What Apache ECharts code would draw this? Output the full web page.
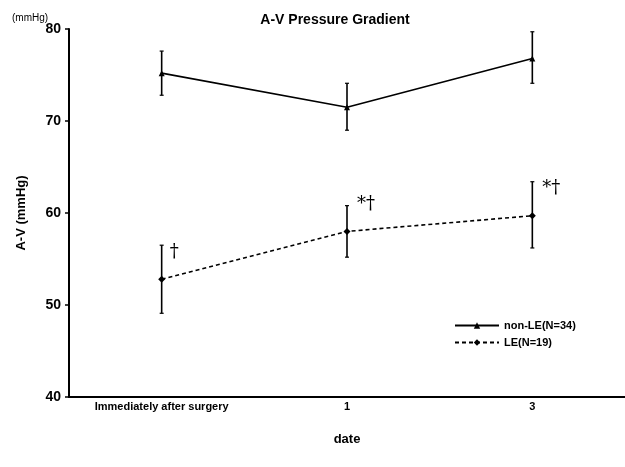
<!DOCTYPE html>
<html>
<head>
    <meta charset="UTF-8">
    <title>A-V Pressure Gradient</title>
    <script src="https://cdn.jsdelivr.net/npm/echarts@6/dist/echarts.min.js"></script>
    <style>
        html, body { margin: 0; padding: 0; background: #fff; }
        #chart { width: 625px; height: 467px; }
    </style>
</head>
<body>
<div id="chart"></div>
<script>
    // 数据
    const categories = ['Immediately after surgery', '1', '3'];
    const nonLeMean = [75.2, 71.5, 76.8];
    const nonLeLow = [72.8, 69.0, 74.1];
    const nonLeHigh = [77.6, 74.1, 79.7];
    const leMean = [52.8, 58.0, 59.7];
    const leLow = [49.1, 55.2, 56.2];
    const leHigh = [56.5, 60.8, 63.4];
    const leMarks = ['†', '*†', '*†'];

    const font = 'Liberation Sans, Arial, sans-serif';

    function errorBars(low, high) {
        return {
            type: 'custom',
            silent: true,
            z: 3,
            renderItem: function (params, api) {
                const top = api.coord([api.value(0), api.value(2)]);
                const bot = api.coord([api.value(0), api.value(1)]);
                const w = 2;
                return {
                    type: 'group',
                    children: [
                        {type: 'line', shape: {x1: top[0], y1: top[1], x2: bot[0], y2: bot[1]}, style: {stroke: '#000', lineWidth: 1.6}},
                        {type: 'line', shape: {x1: top[0] - w, y1: top[1], x2: top[0] + w, y2: top[1]}, style: {stroke: '#000', lineWidth: 1.2}},
                        {type: 'line', shape: {x1: bot[0] - w, y1: bot[1], x2: bot[0] + w, y2: bot[1]}, style: {stroke: '#000', lineWidth: 1.2}}
                    ]
                };
            },
            data: categories.map((c, i) => [i, low[i], high[i]])
        };
    }

    const chart = echarts.init(document.getElementById('chart'));
    chart.setOption({
        animation: false,
        title: [
            {text: 'A-V Pressure Gradient', left: 330, top: 8, textAlign: 'center',
                textStyle: {fontFamily: font, fontSize: 14, fontWeight: 'bold', color: '#000'}},
            {text: '(mmHg)', left: 7, top: 8,
                textStyle: {fontFamily: font, fontSize: 10, fontWeight: 'normal', color: '#000'}}
        ],
        legend: {
            orient: 'vertical',
            left: 449, top: 315,
            itemWidth: 44, itemHeight: 8, itemGap: 6,
            textStyle: {fontFamily: font, fontSize: 11, fontWeight: 'bold', color: '#000'},
            data: ['non-LE(N=34)', 'LE(N=19)']
        },
        grid: {left: 69, right: 0, top: 29, bottom: 70, containLabel: false},
        xAxis: {
            type: 'category',
            data: categories,
            boundaryGap: true,
            name: 'date',
            nameLocation: 'middle',
            nameGap: 36,
            nameTextStyle: {fontFamily: font, fontSize: 13, fontWeight: 'bold', color: '#000'},
            axisLine: {lineStyle: {color: '#000', width: 2}},
            axisTick: {show: false},
            axisLabel: {fontFamily: font, fontSize: 11, fontWeight: 'bold', color: '#000', margin: 4}
        },
        yAxis: {
            type: 'value',
            min: 40, max: 80, interval: 10,
            name: 'A-V (mmHg)',
            nameLocation: 'middle',
            nameGap: 41,
            nameRotate: 90,
            nameTextStyle: {fontFamily: font, fontSize: 13, fontWeight: 'bold', color: '#000'},
            axisLine: {show: true, lineStyle: {color: '#000', width: 2}},
            axisTick: {show: true, length: 4, lineStyle: {color: '#000', width: 1.5}},
            axisLabel: {fontFamily: font, fontSize: 14, fontWeight: 'bold', color: '#000', margin: 8},
            splitLine: {show: false}
        },
        series: [
            {
                name: 'non-LE(N=34)',
                type: 'line',
                data: nonLeMean,
                symbol: 'triangle',
                symbolSize: 6,
                z: 4,
                lineStyle: {color: '#000', width: 1.6, type: 'solid'},
                itemStyle: {color: '#000'}
            },
            {
                name: 'LE(N=19)',
                type: 'line',
                data: leMean,
                symbol: 'diamond',
                symbolSize: 7,
                z: 4,
                lineStyle: {color: '#000', width: 1.6, type: [4, 3]},
                itemStyle: {color: '#000'}
            },
            errorBars(nonLeLow, nonLeHigh),
            errorBars(leLow, leHigh),
            {
                // 显著性标记
                type: 'custom',
                silent: true,
                renderItem: function (params, api) {
                    const p = api.coord([api.value(0), api.value(1)]);
                    const txt = leMarks[params.dataIndex];
                    return {
                        type: 'text',
                        x: p[0] + (txt.length > 1 ? 10 : 8),
                        y: p[1] - 27,
                        style: {
                            text: txt,
                            fontFamily: 'DejaVu Serif, serif',
                            fontSize: 18,
                            fill: '#000',
                            textVerticalAlign: 'middle',
                            textAlign: 'left'
                        }
                    };
                },
                data: categories.map((c, i) => [i, leMean[i]])
            }
        ]
    });
</script>
</body>
</html>
